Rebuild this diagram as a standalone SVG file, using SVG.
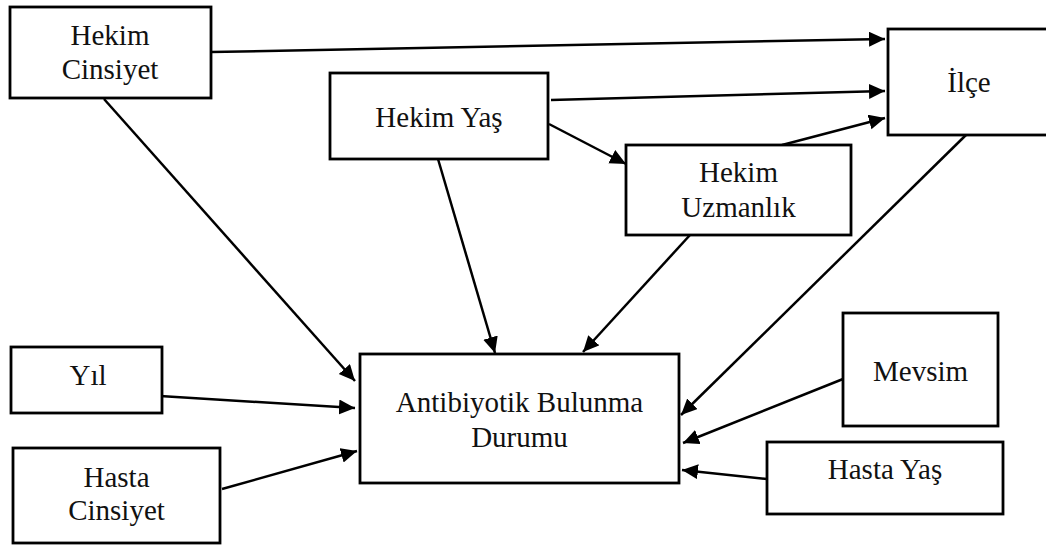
<svg xmlns="http://www.w3.org/2000/svg" width="1046" height="545" viewBox="0 0 1046 545">
<style>
.box{fill:#fff;stroke:#000;stroke-width:2.8}
.t{font-family:"Liberation Serif","Times New Roman",serif;font-size:29px;fill:#111;text-anchor:middle}
.c{stroke:#000;stroke-width:2.5;fill:none;marker-end:url(#ah)}
</style>
<defs>
<marker id="ah" markerUnits="userSpaceOnUse" markerWidth="17" markerHeight="16" refX="16" refY="7.5" orient="auto">
<path d="M0,0 L16,7.5 L0,15 Z" fill="#000"/>
</marker>
</defs>
<rect width="1046" height="545" fill="#fff"/>
<g id="connectors">
<line class="c" x1="211" y1="52" x2="885" y2="39"/>
<line class="c" x1="551" y1="100" x2="885" y2="91"/>
<line class="c" x1="782" y1="145" x2="885" y2="118"/>
<line class="c" x1="549" y1="124" x2="626" y2="164"/>
<line class="c" x1="104" y1="99" x2="355" y2="381"/>
<line class="c" x1="438" y1="159" x2="495" y2="353"/>
<line class="c" x1="690" y1="235" x2="583" y2="352"/>
<line class="c" x1="967" y1="134" x2="681" y2="415"/>
<line class="c" x1="160" y1="396" x2="355" y2="408"/>
<line class="c" x1="222" y1="489" x2="357" y2="451"/>
<line class="c" x1="843" y1="379" x2="683" y2="443"/>
<line class="c" x1="767" y1="479" x2="682" y2="470"/>
</g>
<g id="hekim-cinsiyet">
<rect class="box" x="10" y="7" width="201" height="91"/>
<text class="t" x="110" y="45">Hekim</text>
<text class="t" x="110" y="79">Cinsiyet</text>
</g>
<g id="hekim-yas">
<rect class="box" x="330" y="73" width="218" height="86"/>
<text class="t" x="439" y="127">Hekim Yaş</text>
</g>
<g id="ilce">
<rect class="box" x="888" y="29" width="164" height="106"/>
<text class="t" x="969" y="92">İlçe</text>
</g>
<g id="hekim-uzmanlik">
<rect class="box" x="626" y="145" width="225" height="90"/>
<text class="t" x="738.5" y="182">Hekim</text>
<text class="t" x="738.5" y="217">Uzmanlık</text>
</g>
<g id="antibiyotik">
<rect class="box" x="360" y="354" width="319" height="129"/>
<text class="t" x="519.5" y="412">Antibiyotik Bulunma</text>
<text class="t" x="519.5" y="447">Durumu</text>
</g>
<g id="yil">
<rect class="box" x="11" y="347" width="151" height="66"/>
<text class="t" x="88" y="385">Yıl</text>
</g>
<g id="hasta-cinsiyet">
<rect class="box" x="13" y="448" width="207" height="95"/>
<text class="t" x="116.5" y="487">Hasta</text>
<text class="t" x="116.5" y="520">Cinsiyet</text>
</g>
<g id="mevsim">
<rect class="box" x="843" y="313" width="155" height="113"/>
<text class="t" x="920.5" y="381">Mevsim</text>
</g>
<g id="hasta-yas">
<rect class="box" x="767" y="442" width="236" height="72"/>
<text class="t" x="885" y="479">Hasta Yaş</text>
</g>
</svg>
